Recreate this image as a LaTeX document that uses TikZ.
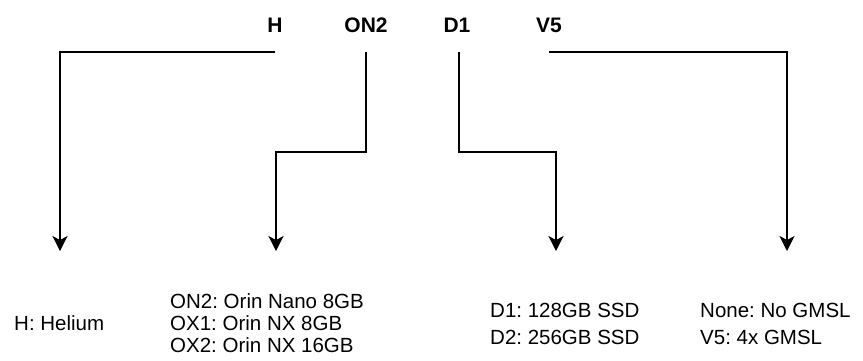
\documentclass[tikz,border=0pt]{standalone}
\usepackage{fontspec}
\setmainfont{Liberation Sans}
\usetikzlibrary{arrows.meta}
\frenchspacing
\begin{document}
\begin{tikzpicture}[x=1pt,y=-1pt,
  conn/.style={line width=1.3pt, line join=miter, -{Stealth[length=15pt,width=15pt,inset=4pt]}},
  key/.style={font=\fontsize{21}{24}\selectfont\bfseries, inner sep=0pt},
  desc/.style={font=\fontsize{20.5}{21.8}\selectfont, inner sep=0pt, align=left, anchor=west},
  descw/.style={font=\fontsize{20.5}{26.5}\selectfont, inner sep=0pt, align=left, anchor=west}]
\useasboundingbox (0,0) rectangle (863,360);
% top labels
\node[key] (h)   at (275,25) {H};
\node[key] (on2) at (366,25) {ON2};
\node[key] (d1)  at (457,25) {D1};
\node[key] (v5)  at (549,25) {V5};
% bottom descriptions
\node[desc]  (th) at (14,323)  {H: Helium};
\node[desc]  (to) at (170,323) {ON2: Orin Nano 8GB\\OX1: Orin NX 8GB\\OX2: Orin NX 16GB};
\node[descw] (td) at (490,324) {D1: 128GB SSD\\D2: 256GB SSD};
\node[descw] (tv) at (700,324) {None: No GMSL\\V5: 4x GMSL};
% connector start and end points
\coordinate (hs) at (275,52);  \coordinate (ht) at (60,251);
\coordinate (os) at (366,52);  \coordinate (ot) at (276,251);
\coordinate (ds) at (459,52);  \coordinate (dt) at (556,251);
\coordinate (vs) at (549,52);  \coordinate (vt) at (787,251);
% connectors
\draw[conn] (hs) -- (hs -| ht) -- (ht);
\draw[conn] (os) -- (366,152) -- (276,152) -- (ot);
\draw[conn] (ds) -- (459,152) -- (556,152) -- (dt);
\draw[conn] (vs) -- (vs -| vt) -- (vt);
\end{tikzpicture}
\end{document}
